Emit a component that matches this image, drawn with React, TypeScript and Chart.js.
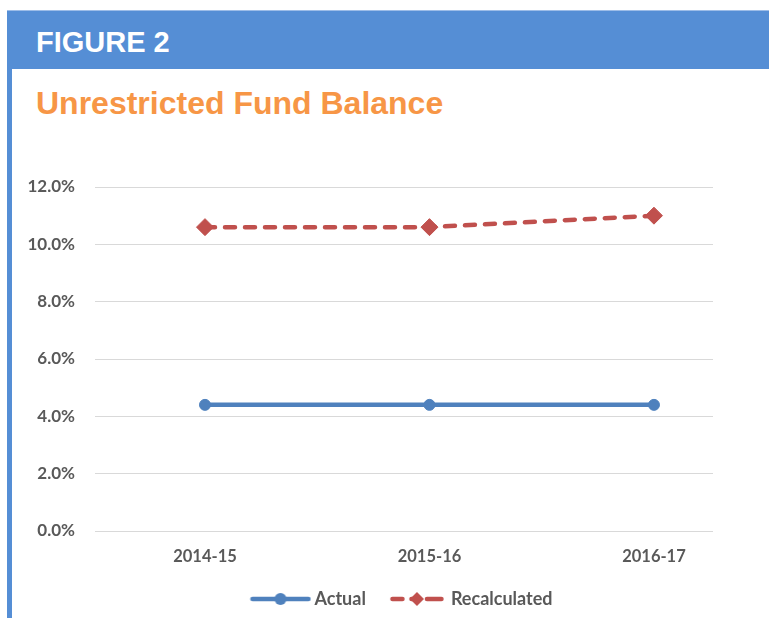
import React, { useEffect, useRef } from 'react';
import { Chart, registerables } from 'chart.js';

Chart.register(...registerables);

const categories = ['2014-15', '2015-16', '2016-17'];
const actualValues = [4.4, 4.4, 4.4];
const recalculatedValues = [10.6, 10.6, 11.0];
const seriesNames = ['Actual', 'Recalculated'];
const yMin = 0;
const yMax = 12;
const yStep = 2;

const BLUE = '#4F81BD';
const RED = '#C0504D';
const GRAY = '#595959';
const HEADER = '#558ED5';
const ORANGE = '#F79646';
const FAMILY = 'Lato, "Open Sans", sans-serif';

function makeLegendImage(kind: 'circle' | 'diamond'): HTMLCanvasElement {
  const c = document.createElement('canvas');
  c.width = 62;
  c.height = 20;
  const ctx = c.getContext('2d')!;
  const cy = 10;
  if (kind === 'circle') {
    ctx.strokeStyle = BLUE;
    ctx.lineWidth = 4.5;
    ctx.lineCap = 'round';
    ctx.beginPath();
    ctx.moveTo(3, cy);
    ctx.lineTo(59, cy);
    ctx.stroke();
    ctx.fillStyle = BLUE;
    ctx.beginPath();
    ctx.arc(31, cy, 6, 0, Math.PI * 2);
    ctx.fill();
  } else {
    ctx.strokeStyle = RED;
    ctx.lineWidth = 4.5;
    ctx.lineCap = 'round';
    const segs = [[6.5, 16.5], [25.5, 29], [41, 55.5]];
    for (const [a, b] of segs) {
      ctx.beginPath();
      ctx.moveTo(a, cy);
      ctx.lineTo(b, cy);
      ctx.stroke();
    }
    ctx.fillStyle = RED;
    ctx.beginPath();
    ctx.moveTo(31 - 7, cy);
    ctx.lineTo(31, cy - 7);
    ctx.lineTo(31 + 7, cy);
    ctx.lineTo(31, cy + 7);
    ctx.closePath();
    ctx.fill();
  }
  return c;
}

export default function App() {
  const ref = useRef<HTMLCanvasElement | null>(null);

  useEffect(() => {
    if (!ref.current) return;
    const images = [makeLegendImage('circle'), makeLegendImage('diamond')];
    const chart = new Chart(ref.current, {
      type: 'line',
      data: {
        datasets: [
          {
            label: seriesNames[0],
            data: actualValues.map((y, i) => ({ x: i, y })),
            borderColor: BLUE,
            backgroundColor: BLUE,
            borderWidth: 4.5,
            pointStyle: 'circle',
            pointRadius: 5.5,
            pointBorderWidth: 1,
            pointBackgroundColor: BLUE,
            pointBorderColor: BLUE,
            tension: 0,
          },
          {
            label: seriesNames[1],
            data: recalculatedValues.map((y, i) => ({ x: i, y })),
            borderColor: RED,
            backgroundColor: RED,
            borderWidth: 4.5,
            borderDash: [10, 10],
            borderCapStyle: 'round',
            pointStyle: 'rectRot',
            pointRadius: 8.5,
            pointBorderWidth: 1,
            pointBackgroundColor: RED,
            pointBorderColor: RED,
            tension: 0,
          },
        ],
      },
      options: {
        animation: false,
        responsive: false,
        layout: { padding: { left: 0, right: 56, top: 37, bottom: 0 } },
        scales: {
          x: {
            type: 'linear',
            min: -0.49,
            max: 2.263,
            grid: { display: false },
            border: { display: false },
            ticks: {
              stepSize: 1,
              includeBounds: false,
              autoSkip: false,
              maxRotation: 0,
              padding: 8,
              color: GRAY,
              font: { family: FAMILY, weight: 'bold', size: 16.5 },
              callback: (v: any) => categories[v as number] ?? '',
            },
            afterFit: (s: any) => {
              s.height = 33;
            },
          },
          y: {
            min: yMin,
            max: yMax,
            grid: { color: '#D9D9D9', lineWidth: 1, drawTicks: false },
            border: { display: false },
            ticks: {
              stepSize: yStep,
              padding: 20,
              color: GRAY,
              font: { family: FAMILY, weight: 'bold', size: 17 },
              callback: (v: any) => Number(v).toFixed(1) + '%',
            },
            afterFit: (s: any) => {
              s.width = 95;
            },
          },
        },
        plugins: {
          legend: {
            position: 'bottom',
            fullSize: false,
            labels: {
              usePointStyle: true,
              pointStyleWidth: 50,
              padding: 26,
              color: GRAY,
              font: { family: FAMILY, weight: 'bold', size: 18 },
              generateLabels: (c: any) =>
                Chart.defaults.plugins.legend.labels
                  .generateLabels(c)
                  .map((it: any, i: number) => ({ ...it, pointStyle: images[i] })),
            },
          },
          tooltip: { enabled: false },
        },
      },
    });
    return () => chart.destroy();
  }, []);

  return (
    <div style={{ position: 'absolute', left: 0, top: 0, width: 769, height: 618, overflow: 'hidden', background: '#fff' }}>
      <div style={{ position: 'absolute', left: 7, top: 10, width: 762, height: 59, background: HEADER, borderTop: '1px solid #9DBDE8', boxSizing: 'border-box' }} />
      <div style={{ position: 'absolute', left: 7, top: 69, width: 5, height: 549, background: HEADER }} />
      <div
        style={{
          position: 'absolute',
          left: 36,
          top: 27.5,
          fontFamily: '"Liberation Sans", Arial, sans-serif',
          fontWeight: 'bold',
          fontSize: 29,
          lineHeight: '29px',
          color: '#fff',
          whiteSpace: 'nowrap',
        }}
      >
        FIGURE 2
      </div>
      <div
        style={{
          position: 'absolute',
          left: 36,
          top: 87,
          fontFamily: '"Liberation Sans", Arial, sans-serif',
          fontWeight: 'bold',
          fontSize: 32,
          lineHeight: '32px',
          color: ORANGE,
          whiteSpace: 'nowrap',
        }}
      >
        Unrestricted Fund Balance
      </div>
      <canvas ref={ref} width={769} height={468} style={{ position: 'absolute', left: 0, top: 150, display: 'block' }} />
    </div>
  );
}
